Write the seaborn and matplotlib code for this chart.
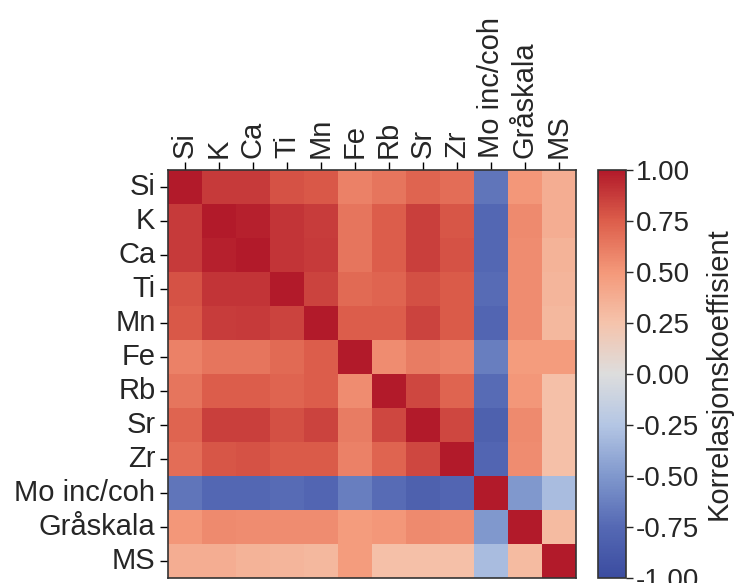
import numpy as np
import pandas as pd
import matplotlib
matplotlib.use("Agg")
import matplotlib.pyplot as plt
from matplotlib.colors import LinearSegmentedColormap
import seaborn as sns

labels = ["Si", "K", "Ca", "Ti", "Mn", "Fe", "Rb", "Sr", "Zr", "Mo inc/coh", "Gråskala", "MS"]

row_si = [1.00, 0.88, 0.88, 0.79, 0.77, 0.60, 0.65, 0.72, 0.68, -0.68, 0.50, 0.38]
row_k  = [0.88, 1.00, 0.97, 0.90, 0.87, 0.65, 0.75, 0.86, 0.78, -0.76, 0.56, 0.38]
row_ca = [0.88, 0.97, 1.00, 0.90, 0.88, 0.65, 0.75, 0.86, 0.79, -0.76, 0.55, 0.35]
row_ti = [0.79, 0.90, 0.90, 1.00, 0.85, 0.70, 0.72, 0.80, 0.76, -0.74, 0.55, 0.33]
row_mn = [0.77, 0.87, 0.88, 0.85, 1.00, 0.75, 0.75, 0.85, 0.76, -0.78, 0.55, 0.32]
row_fe = [0.60, 0.65, 0.65, 0.70, 0.75, 1.00, 0.55, 0.62, 0.60, -0.64, 0.48, 0.48]
row_rb = [0.65, 0.75, 0.75, 0.72, 0.75, 0.55, 1.00, 0.83, 0.72, -0.74, 0.50, 0.27]
row_sr = [0.72, 0.86, 0.86, 0.80, 0.85, 0.62, 0.83, 1.00, 0.83, -0.82, 0.56, 0.27]
row_zr = [0.68, 0.78, 0.79, 0.76, 0.76, 0.60, 0.72, 0.83, 1.00, -0.78, 0.55, 0.27]
row_mo = [-0.68, -0.76, -0.76, -0.74, -0.78, -0.64, -0.74, -0.82, -0.78, 1.00, -0.50, -0.30]
row_gr = [0.50, 0.56, 0.55, 0.55, 0.55, 0.48, 0.50, 0.56, 0.55, -0.50, 1.00, 0.30]
row_ms = [0.38, 0.38, 0.35, 0.33, 0.32, 0.48, 0.27, 0.27, 0.27, -0.30, 0.30, 1.00]

rows = [row_si, row_k, row_ca, row_ti, row_mn, row_fe, row_rb, row_sr, row_zr, row_mo, row_gr, row_ms]
df = pd.DataFrame(rows, index=labels, columns=labels)

# diverging colormap: muted blue half, coolwarm red half
cw = plt.get_cmap("coolwarm")
blue_half = [(59, 76, 160), (85, 105, 180), (128, 152, 205), (180, 198, 228), (221, 221, 221)]
anchors = [(i / 8, tuple(c / 255 for c in col)) for i, col in enumerate(blue_half)]
for i in range(5, 8):
    anchors.append((i / 8, cw(i / 8)[:3]))
anchors.append((1.0, (178 / 255, 26 / 255, 42 / 255)))
cmap = LinearSegmentedColormap.from_list("muted_coolwarm", anchors)

sns.set_theme(style="ticks")
plt.rcParams['font.family'] = ['Liberation Sans', 'DejaVu Sans']

fig = plt.figure(figsize=(7.35, 5.83), dpi=100)
ax = fig.add_axes([168/735, 1-578/583, (576-168)/735, (578-170)/583])
cax = fig.add_axes([598/735, 1-578/583, (626-598)/735, (578-170)/583])

sns.heatmap(df, ax=ax, cbar_ax=cax, cmap=cmap, vmin=-1, vmax=1, square=False,
            cbar_kws={"label": "Korrelasjonskoeffisient"})

ax.xaxis.tick_top()
ax.set_xticklabels(labels, rotation=90, fontsize=21)
ax.set_yticklabels(labels, rotation=0, fontsize=21)
ax.tick_params(axis='both', length=6, width=1, color='black', pad=3)
for s in ax.spines.values():
    s.set_visible(True)
    s.set_color('#333333')
    s.set_linewidth(1.2)

cax.set_yticks([-1, -0.75, -0.5, -0.25, 0, 0.25, 0.5, 0.75, 1.0])
cax.set_yticklabels(["-1.00", "-0.75", "-0.50", "-0.25", "0.00", "0.25", "0.50", "0.75", "1.00"], fontsize=20)
cax.tick_params(length=5, width=1, pad=2)
cax.yaxis.label.set_size(21)
cax.yaxis.labelpad = 4
cb = ax.collections[0].colorbar
cb.outline.set_visible(True)
cb.outline.set_edgecolor('#333333')
cb.outline.set_linewidth(1.2)

fig.savefig("out.png", dpi=100)
